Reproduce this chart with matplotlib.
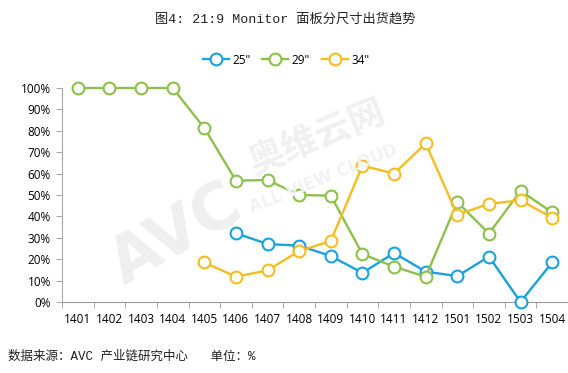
import numpy as np
import matplotlib.pyplot as plt

# Data (share of shipments, %)
months = ['1401', '1402', '1403', '1404', '1405', '1406', '1407', '1408',
          '1409', '1410', '1411', '1412', '1501', '1502', '1503', '1504']
s25 = [None, None, None, None, None, 32.1, 27.1, 26.3, 21.5, 13.6, 22.9, 14.2, 12.1, 21.2, 0.0, 18.5]
s29 = [100, 100, 100, 100, 81.3, 56.7, 57.0, 50.0, 49.7, 22.4, 16.5, 11.8, 46.7, 32.0, 51.9, 41.9]
s34 = [None, None, None, None, 18.5, 11.8, 14.8, 23.8, 28.5, 63.7, 60.0, 74.1, 40.7, 45.9, 47.5, 39.4]

labels = ['25"', '29"', '34"']
colors = ['#1ba1dc', '#8cc04a', '#f5bd1f']

cjk = ['Liberation Mono', 'Noto Sans CJK SC']

fig = plt.figure(figsize=(5.68, 3.73), dpi=100)
ax = fig.add_axes([62 / 568, 71 / 373, 506 / 568, 214 / 373])

x = np.arange(len(months))
for vals, lab, c in zip([s25, s29, s34], labels, colors):
    y = np.array([np.nan if v is None else v for v in vals], dtype=float) / 100
    ax.plot(x, y, color=c, lw=1.7, marker='o', ms=8.5, mfc='white', mec=c, mew=1.5,
            label=lab, clip_on=False, zorder=3)

# faint watermark
fig.text(0.31, 0.37, 'AVC', fontsize=46, fontweight='bold', color='#efefef',
         rotation=30, ha='center', va='center', zorder=0, family='DejaVu Sans')
fig.text(0.56, 0.63, '奥维云网', fontsize=26, fontweight='bold', color='#f0f0f0',
         rotation=22, ha='center', va='center', zorder=0, family='Noto Sans CJK SC')
fig.text(0.57, 0.52, 'ALL VIEW CLOUD', fontsize=12, fontweight='bold', color='#f2f2f2',
         rotation=22, ha='center', va='center', zorder=0, family='DejaVu Sans')

ax.set_xlim(-0.5, len(months) - 0.5)
ax.set_ylim(0, 1)
ax.set_yticks(np.arange(0, 1.01, 0.1))
ax.set_yticklabels([f'{int(round(v * 100))}%' for v in np.arange(0, 1.01, 0.1)],
                   fontsize=8.5, family='Open Sans')
ax.set_xticks(x)
ax.set_xticklabels(months, fontsize=8.5, family='Open Sans')
ax.set_xticks(np.arange(-0.5, len(months)), minor=True)
ax.tick_params(axis='x', which='major', length=0, pad=8)
ax.tick_params(axis='x', which='minor', length=4, color='#999999', direction='out')
ax.tick_params(axis='y', length=4, color='#aaaaaa', pad=4)
for side in ['top', 'right']:
    ax.spines[side].set_visible(False)
ax.spines['left'].set_color('#aaaaaa')
ax.spines['bottom'].set_color('#999999')
ax.spines['left'].set_linewidth(0.8)
ax.spines['bottom'].set_linewidth(0.8)

ax.legend(loc='center', bbox_to_anchor=(286 / 568, 1 - 60 / 373), bbox_transform=fig.transFigure,
          ncol=3, frameon=False, handlelength=2.2, columnspacing=1.0,
          handletextpad=0.3, prop={'family': 'Open Sans', 'size': 8.5})

fig.text(285 / 568, 1 - 19 / 373, '图4: 21:9 Monitor 面板分尺寸出货趋势', ha='center', va='center',
         fontsize=9.5, family=cjk, color='#222222')
fig.text(8 / 568, 1 - 357 / 373, '数据来源：AVC 产业链研究中心   单位：%', ha='left', va='center',
         fontsize=9, family=cjk, color='#222222')

fig.savefig('out.png', dpi=100)
